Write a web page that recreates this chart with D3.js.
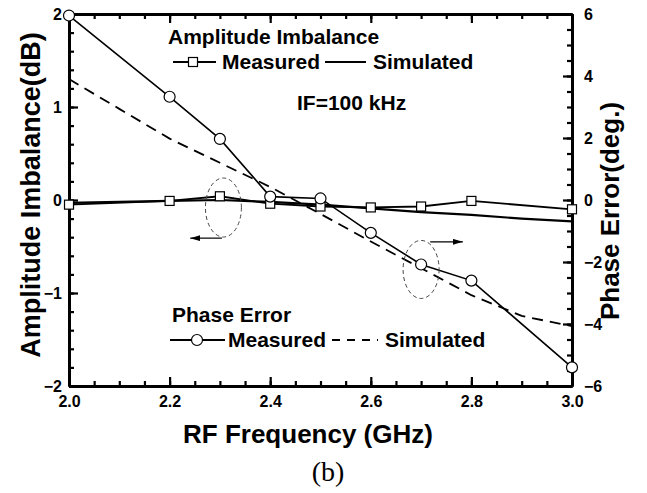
<!DOCTYPE html>
<html>
<head>
<meta charset="utf-8">
<script src="https://cdn.jsdelivr.net/npm/d3@7/dist/d3.min.js"></script>
<style>
  body { margin: 0; background: #fff; }
  svg text { font-family: Arial, "Liberation Sans", sans-serif; font-weight: bold; fill: #000; }
</style>
</head>
<body>
<svg id="chart" width="647" height="493"></svg>
<script>
// measured points (GHz)
const freqMeas = [2.0, 2.2, 2.3, 2.4, 2.5, 2.6, 2.7, 2.8, 3.0];
const ampMeas = [-0.05, -0.01, 0.04, -0.04, -0.07, -0.08, -0.07, -0.01, -0.10];
const phaseMeas = [5.95, 3.33, 1.97, 0.11, 0.05, -1.06, -2.08, -2.6, -5.4];

// simulated curves
const freqSim = [2.0, 2.1, 2.2, 2.3, 2.4, 2.5, 2.6, 2.7, 2.8, 2.9, 3.0];
const ampSim = [-0.03, -0.02, -0.01, 0.0, -0.02, -0.05, -0.09, -0.13, -0.16, -0.2, -0.23];
const phaseSim = [3.9, 2.94, 1.98, 1.2, 0.42, -0.45, -1.34, -2.2, -3.07, -3.74, -4.07];

// tick labels
const xTicks = [2.0, 2.2, 2.4, 2.6, 2.8, 3.0];
const ampTicks = [-2, -1, 0, 1, 2];
const phaseTicks = [-6, -4, -2, 0, 2, 4, 6];

const svg = d3.select("#chart");
const L = 69, R = 572, T = 14, B = 386;

const x = d3.scaleLinear().domain([2, 3]).range([L, R]);
const yA = d3.scaleLinear().domain([-2, 2]).range([B, T]);
const yP = d3.scaleLinear().domain([-6, 6]).range([B, T]);

const styleAxis = (g) => {
  g.select(".domain").attr("stroke", "#000").attr("stroke-width", 3);
  g.selectAll(".tick line").attr("stroke", "#000").attr("stroke-width", 2.2);
  g.selectAll(".tick text").style("font-size", "16px");
};

// minor ticks first
svg.append("g").attr("transform", `translate(0,${B})`)
  .call(d3.axisBottom(x).tickValues(d3.range(2, 3.001, 0.05)).tickSize(-5).tickSizeOuter(0).tickFormat(""))
  .call(styleAxis);
svg.append("g").attr("transform", `translate(0,${T})`)
  .call(d3.axisTop(x).tickValues(d3.range(2, 3.001, 0.05)).tickSize(-5).tickSizeOuter(0).tickFormat(""))
  .call(styleAxis);
svg.append("g").attr("transform", `translate(${L},0)`)
  .call(d3.axisLeft(yA).tickValues(d3.range(-2, 2.001, 0.2)).tickSize(-5).tickSizeOuter(0).tickFormat(""))
  .call(styleAxis);
svg.append("g").attr("transform", `translate(${R},0)`)
  .call(d3.axisRight(yP).tickValues(d3.range(-6, 6.001, 0.5)).tickSize(-5).tickSizeOuter(0).tickFormat(""))
  .call(styleAxis);

// major ticks with labels
svg.append("g").attr("transform", `translate(0,${B})`)
  .call(d3.axisBottom(x).tickValues(xTicks).tickSize(-9).tickSizeOuter(0).tickPadding(10).tickFormat(d3.format(".1f")))
  .call(styleAxis);
svg.append("g").attr("transform", `translate(0,${T})`)
  .call(d3.axisTop(x).tickValues(xTicks).tickSize(-9).tickSizeOuter(0).tickFormat(""))
  .call(styleAxis);
svg.append("g").attr("transform", `translate(${L},0)`)
  .call(d3.axisLeft(yA).tickValues(ampTicks).tickSize(-9).tickSizeOuter(0).tickPadding(7).tickFormat(d3.format("d")))
  .call(styleAxis);
svg.append("g").attr("transform", `translate(${R},0)`)
  .call(d3.axisRight(yP).tickValues(phaseTicks).tickSize(-9).tickSizeOuter(0).tickPadding(12).tickFormat(d3.format("d")))
  .call(styleAxis);

// curves
const meas = freqMeas.map((f, i) => ({ f, a: ampMeas[i], p: phaseMeas[i] }));
const sim = freqSim.map((f, i) => ({ f, a: ampSim[i], p: phaseSim[i] }));

const lineA = d3.line().x((d) => x(d.f)).y((d) => yA(d.a));
const lineP = d3.line().x((d) => x(d.f)).y((d) => yP(d.p));

svg.append("path").attr("d", lineA(sim))
  .attr("fill", "none").attr("stroke", "#000").attr("stroke-width", 2.2);
svg.append("path").attr("d", lineP(sim))
  .attr("fill", "none").attr("stroke", "#000").attr("stroke-width", 1.8)
  .attr("stroke-dasharray", "11,7");
svg.append("path").attr("d", lineA(meas))
  .attr("fill", "none").attr("stroke", "#000").attr("stroke-width", 1.8);
svg.append("path").attr("d", lineP(meas))
  .attr("fill", "none").attr("stroke", "#000").attr("stroke-width", 1.6);

svg.append("g").selectAll("rect").data(meas).enter().append("rect")
  .attr("x", (d) => x(d.f) - 4.5).attr("y", (d) => yA(d.a) - 4.5)
  .attr("width", 9).attr("height", 9)
  .attr("fill", "#fff").attr("stroke", "#000").attr("stroke-width", 1.2);
svg.append("g").selectAll("circle").data(meas).enter().append("circle")
  .attr("cx", (d) => x(d.f)).attr("cy", (d) => yP(d.p)).attr("r", 5.5)
  .attr("fill", "#fff").attr("stroke", "#000").attr("stroke-width", 1.2);

// arrow marker
svg.append("defs").append("marker")
  .attr("id", "arr").attr("viewBox", "0 0 10 6")
  .attr("refX", 10).attr("refY", 3)
  .attr("markerWidth", 10).attr("markerHeight", 6)
  .attr("markerUnits", "userSpaceOnUse").attr("orient", "auto")
  .append("path").attr("d", "M0,0L10,3L0,6Z").attr("fill", "#000");

// annotations: dashed ellipses with arrows
svg.append("ellipse").attr("cx", x(2.307)).attr("cy", yA(-0.081)).attr("rx", 18).attr("ry", 29.5)
  .attr("fill", "none").attr("stroke", "#444").attr("stroke-width", 1).attr("stroke-dasharray", "4,3");
svg.append("line").attr("x1", x(2.304)).attr("x2", x(2.241)).attr("y1", yA(-0.41)).attr("y2", yA(-0.41))
  .attr("stroke", "#000").attr("stroke-width", 1.2).attr("marker-end", "url(#arr)");
svg.append("ellipse").attr("cx", x(2.70)).attr("cy", yP(-2.24)).attr("rx", 18).attr("ry", 29)
  .attr("fill", "none").attr("stroke", "#444").attr("stroke-width", 1).attr("stroke-dasharray", "4,3");
svg.append("line").attr("x1", x(2.718)).attr("x2", x(2.783)).attr("y1", yP(-1.35)).attr("y2", yP(-1.35))
  .attr("stroke", "#000").attr("stroke-width", 1.2).attr("marker-end", "url(#arr)");

// legends
const leg = svg.append("g");
leg.append("text").attr("x", 168).attr("y", 44).style("font-size", "21px").text("Amplitude Imbalance");
leg.append("line").attr("x1", 173).attr("x2", 216).attr("y1", 62).attr("y2", 62).attr("stroke", "#000").attr("stroke-width", 1.8);
leg.append("rect").attr("x", 188.5).attr("y", 57.5).attr("width", 9).attr("height", 9)
  .attr("fill", "#fff").attr("stroke", "#000").attr("stroke-width", 1.2);
leg.append("text").attr("x", 222).attr("y", 69).style("font-size", "21px").text("Measured");
leg.append("line").attr("x1", 325).attr("x2", 366).attr("y1", 62).attr("y2", 62).attr("stroke", "#000").attr("stroke-width", 1.8);
leg.append("text").attr("x", 373).attr("y", 69).style("font-size", "21px").text("Simulated");

leg.append("text").attr("x", 297).attr("y", 110).style("font-size", "21px").text("IF=100 kHz");

leg.append("text").attr("x", 172).attr("y", 322).style("font-size", "21px").text("Phase Error");
leg.append("line").attr("x1", 170).attr("x2", 225).attr("y1", 340).attr("y2", 340).attr("stroke", "#000").attr("stroke-width", 1.8);
leg.append("circle").attr("cx", 197).attr("cy", 340).attr("r", 5.5)
  .attr("fill", "#fff").attr("stroke", "#000").attr("stroke-width", 1.2);
leg.append("text").attr("x", 228).attr("y", 347).style("font-size", "21px").text("Measured");
leg.append("line").attr("x1", 332).attr("x2", 378).attr("y1", 340).attr("y2", 340).attr("stroke", "#000").attr("stroke-width", 1.8)
  .attr("stroke-dasharray", "8,7");
leg.append("text").attr("x", 385).attr("y", 347).style("font-size", "21px").text("Simulated");

// axis titles
svg.append("text").attr("transform", "translate(40,195) rotate(-90)").attr("text-anchor", "middle")
  .style("font-size", "27px").text("Amplitude Imbalance(dB)");
svg.append("text").attr("transform", "translate(619,211) rotate(-90)").attr("text-anchor", "middle")
  .style("font-size", "26px").text("Phase Error(deg.)");
svg.append("text").attr("x", 308).attr("y", 443).attr("text-anchor", "middle")
  .style("font-size", "26px").text("RF Frequency (GHz)");
svg.append("text").attr("x", 328).attr("y", 481).attr("text-anchor", "middle")
  .style("font-family", "'Liberation Serif', 'Times New Roman', serif").style("font-weight", "normal")
  .style("font-size", "28px").text("(b)");
</script>
</body>
</html>
